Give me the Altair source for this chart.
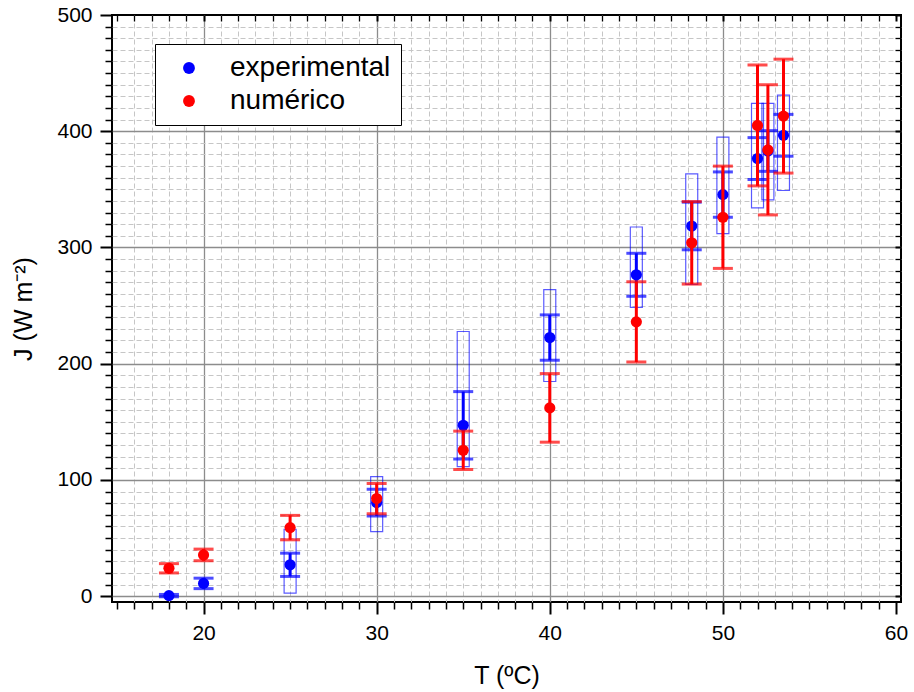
import altair as alt
import pandas as pd

# ---- data ----
T = [18, 20, 25, 30, 35, 40, 45, 48.2, 50, 52, 52.6, 53.5]

J_exp = [0.5, 11, 27, 80.5, 147, 222.5, 276.5, 318.5, 345.5, 376.5, 383, 396.5]
err_exp = [1, 4.5, 10, 11.5, 29, 19.5, 18.5, 20.5, 19.5, 18, 17.5, 18]
box_lo = [None, None, 2.6, 55.6, 111.4, 184.7, 248.5, 268.3, 311.9, 334, 341, 349]
box_hi = [None, None, 57.6, 102.8, 227.7, 263.7, 317.6, 363.4, 395, 424, 424, 431]

J_num = [24, 35.5, 59, 84, 125.5, 162, 236, 304, 326, 405, 384, 413]
err_num = [4, 5, 10.5, 13, 16.5, 29.5, 34.5, 35.5, 44, 52, 56, 49]

series = ["experimental", "numérico"]
colors = ["#0000ff", "#ff0000"]

x_ticks = list(range(15, 61))
y_ticks = list(range(0, 501, 10))

exp = pd.DataFrame({"T": T, "J": J_exp, "err": err_exp,
                    "box_lo": box_lo, "box_hi": box_hi, "serie": series[0]})
num = pd.DataFrame({"T": T, "J": J_num, "err": err_num, "serie": series[1]})

FONT = "Liberation Sans"

xs = alt.Scale(domain=[15, 60], nice=False, zero=False)
ys = alt.Scale(domain=[-5, 500], nice=False, zero=False)

XMAJ = "datum.value % 10 === 0"
YMAJ = "datum.value % 100 === 0"


def main_axis(major, edge, title, values):
    return alt.Axis(
        values=values,
        title=title,
        labelExpr=f"{major} ? datum.label : ''",
        labelFlush=False,
        labelOverlap=False,
        grid=True,
        gridColor={"condition": {"test": major, "value": "#8c8c8c"}, "value": "#c6c6c6"},
        gridDash={"condition": {"test": major, "value": []}, "value": [5, 3]},
        gridWidth={"condition": {"test": major, "value": 1.3}, "value": 1},
        gridOpacity={"condition": {"test": edge, "value": 0}, "value": 1},
        domain=False,
        tickColor="black",
        tickSize={"condition": {"test": major, "value": 12}, "value": 7},
        tickWidth={"condition": {"test": major, "value": 2}, "value": 1.5},
        labelFont=FONT, labelFontSize=21, labelColor="black", labelPadding=8,
        titleFont=FONT, titleFontSize=25, titleFontWeight="normal", titleColor="black",
        titlePadding=20,
    )


def mirror_axis(orient, major, values):
    return alt.Axis(
        orient=orient,
        values=values,
        title="",
        labels=False,
        grid=False,
        domain=False,
        tickColor="black",
        tickSize={"expr": "-6"},
        tickWidth={"condition": {"test": major, "value": 2}, "value": 1.3},
    )


x_main = main_axis(XMAJ, "datum.value == 15 || datum.value == 60", "T (ºC)", x_ticks)
y_main = main_axis(YMAJ, "datum.value == 500", "J (W m⁻²)", y_ticks)

legend = alt.Legend(
    title=None, orient="none", legendX=43, legendY=29,
    fillColor="white", strokeColor="black", padding=10,
    labelFont=FONT, labelFontSize=28, labelColor="black", labelLimit=400,
    symbolType="circle", symbolSize=140, symbolStrokeWidth=0,
    rowPadding=5, symbolOffset=10, labelOffset=27,
)
color = alt.Color("serie:N", scale=alt.Scale(domain=series, range=colors), legend=legend)

base_exp = alt.Chart(exp)
base_num = alt.Chart(num)

boxes = base_exp.mark_bar(size=12, color=colors[0], fillOpacity=0, stroke=colors[0],
                          strokeOpacity=0.65, strokeWidth=1.2).transform_filter(
    "isValid(datum.box_lo)").encode(
    x=alt.X("T:Q", scale=xs, axis=x_main),
    y=alt.Y("box_lo:Q", scale=ys, axis=y_main),
    y2="box_hi:Q",
)


def err_layers(base, c):
    b = base.transform_calculate(lo="datum.J - datum.err", hi="datum.J + datum.err")
    rule = b.mark_rule(color=c, strokeWidth=3).encode(
        x=alt.X("T:Q", scale=xs, axis=None),
        y=alt.Y("lo:Q", scale=ys, axis=None),
        y2="hi:Q",
    )
    caps = b.transform_fold(["lo", "hi"], as_=["k", "v"]).mark_tick(
        color=c, orient="horizontal", size=20, thickness=3).encode(
        x=alt.X("T:Q", scale=xs, axis=None),
        y=alt.Y("v:Q", scale=ys, axis=None),
    )
    return rule, caps


exp_rule, exp_caps = err_layers(base_exp, colors[0])
num_rule, num_caps = err_layers(base_num, colors[1])

exp_pts = base_exp.mark_circle(size=125, opacity=1).encode(
    x=alt.X("T:Q", scale=xs, axis=None),
    y=alt.Y("J:Q", scale=ys, axis=None),
    color=color,
)
num_pts = base_num.mark_circle(size=125, opacity=1).encode(
    x=alt.X("T:Q", scale=xs, axis=mirror_axis("top", XMAJ, x_ticks)),
    y=alt.Y("J:Q", scale=ys, axis=mirror_axis("right", YMAJ, y_ticks)),
    color=color,
)

chart = alt.layer(
    boxes, exp_rule, exp_caps, exp_pts, num_rule, num_caps, num_pts
).resolve_axis(x="independent", y="independent").properties(
    width=789, height=587,
    padding={"left": 112, "top": 15, "right": 13, "bottom": 90},
    autosize=alt.AutoSizeParams(type="none"),
    background="white",
).configure_view(stroke="black", strokeWidth=2)

chart.save("out.html", embed_options={"renderer": "svg", "actions": False})
